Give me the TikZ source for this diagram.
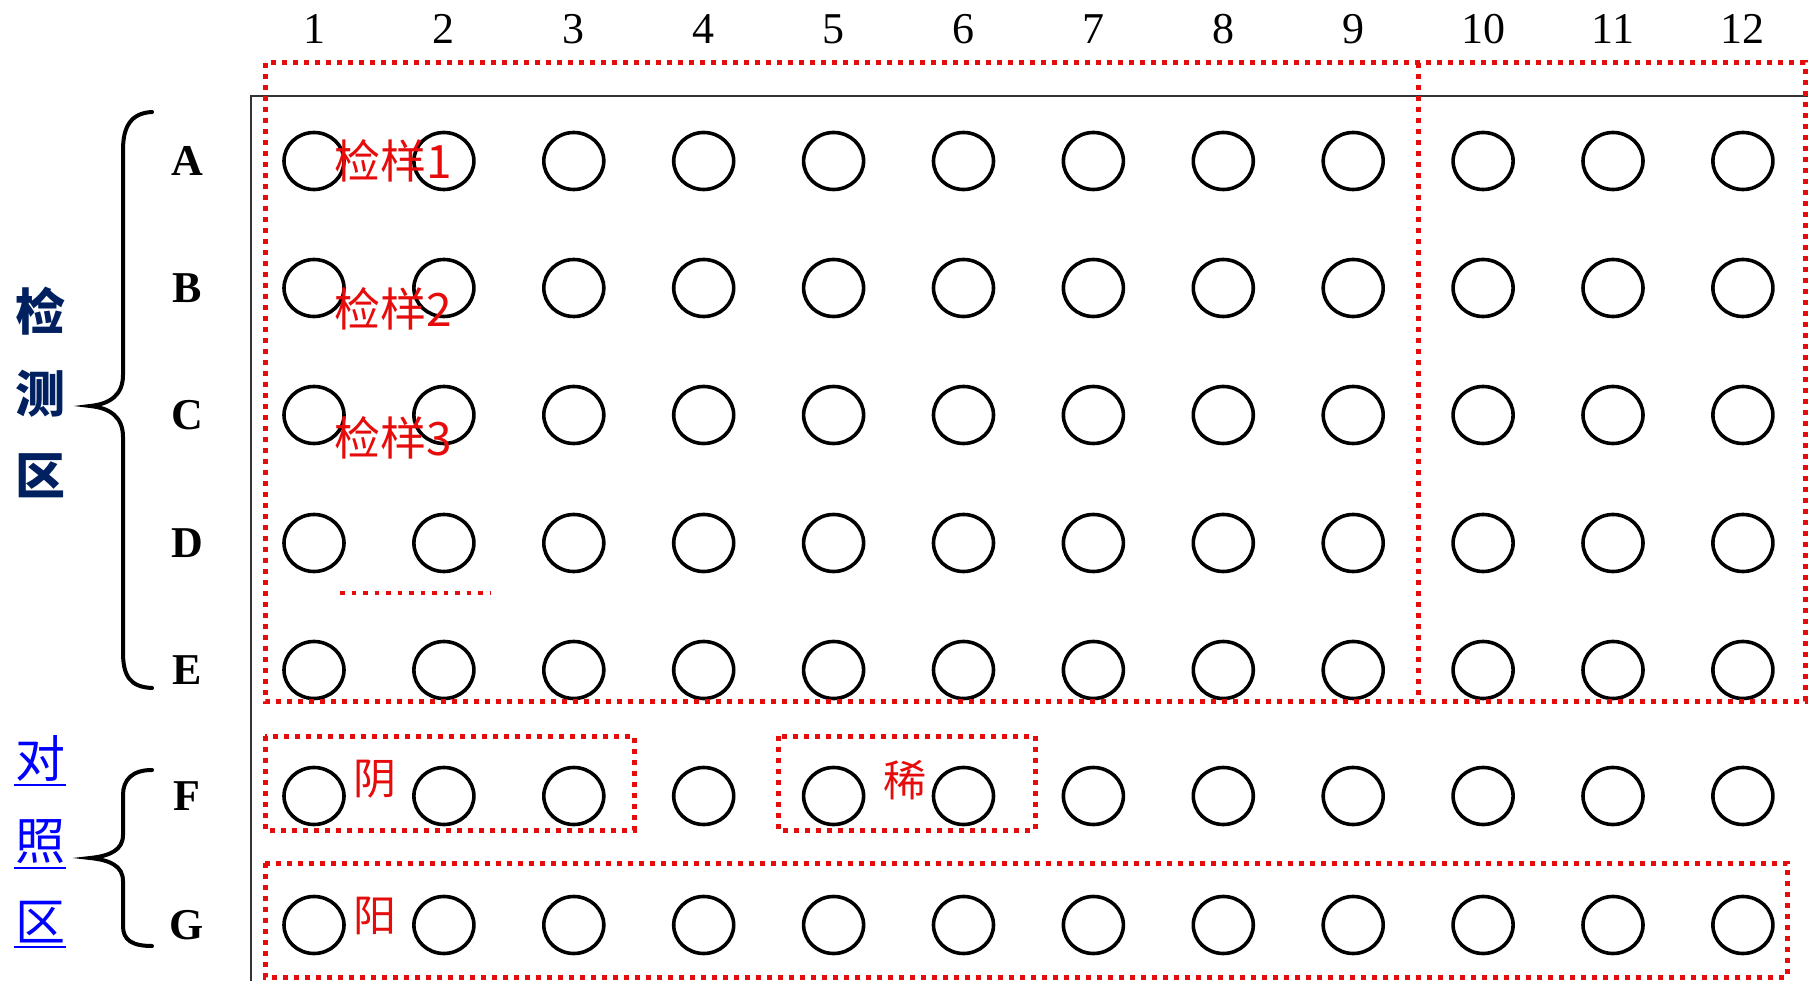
\documentclass[tikz,border=0pt]{standalone}
\usepackage{fontspec}
\setmainfont{Liberation Serif}
\newfontfamily\cjk{Noto Sans CJK SC}
\usetikzlibrary{shapes.geometric}
\definecolor{dotred}{RGB}{230,12,12}
\definecolor{navyblue}{RGB}{0,32,96}
\definecolor{ctrlblue}{RGB}{0,0,255}
\begin{document}
\begin{tikzpicture}[x=1pt,y=-1pt,
  well/.style={ellipse, draw=black, line width=3.6pt, minimum width=60pt, minimum height=57pt, inner sep=0pt},
  zone/.style={draw=dotred, line width=5pt, dash pattern=on 5pt off 6pt},
  collabel/.style={font=\fontsize{44}{44}\selectfont, inner sep=0pt},
  rowlabel/.style={font=\fontsize{44}{44}\selectfont\bfseries, inner sep=0pt},
  redtxt/.style={text=dotred, font=\cjk\fontsize{46}{46}\selectfont, inner sep=0pt},
  redsmall/.style={text=dotred, font=\cjk\fontsize{43}{43}\selectfont, inner sep=0pt},
  areatxt/.style={font=\cjk\fontsize{50}{50}\selectfont, inner sep=0pt},
  brace/.style={draw=black, line width=4pt, line cap=round},
  frame/.style={draw=black!80, line width=2.5pt}
]
\useasboundingbox (0,0) rectangle (1808,981);
\fill[white] (0,0) rectangle (1808,981);

% plate frame
\coordinate (frameTL) at (251,96);
\coordinate (frameTR) at (1808,96);
\coordinate (frameBL) at (251,981);
\draw[frame] (frameTR) -- (frameTL) -- (frameBL);

% column labels
\foreach \c in {1,...,12} {
  \node[collabel] (col\c) at ({314+129.9*(\c-1)},29) {\c};
}

% rows and wells
\foreach \r/\y in {A/161,B/288,C/415,D/543,E/670,F/796,G/925} {
  \node[rowlabel] (row\r) at (187,\y) {\r};
  \foreach \c in {1,...,12} {
    \node[well] (w\r\c) at ({314+129.9*(\c-1)},\y) {};
  }
}

% zones
\draw[zone] (265,63) rectangle (1805,701);
\draw[zone] (1418,63) -- (1418,701);
\draw[zone] (265,736) rectangle (634,830);
\draw[zone] (778,736) rectangle (1035,830);
\draw[zone] (265,863) rectangle (1787,977);
\draw[draw=dotred, line width=4.5pt, dash pattern=on 4.5pt off 7pt] (340,593) -- (490,593);

% red labels
\node[redtxt, anchor=west] (s1) at (334,161) {检样1};
\node[redtxt, anchor=west] (s2) at (334,309) {检样2};
\node[redtxt, anchor=west] (s3) at (334,438) {检样3};
\node[redsmall] (neg) at (375,779) {阴};
\node[redsmall] (pos) at (375,916) {阳};
\node[redsmall] (dil) at (905,780) {稀};

% braces
\draw[brace] (152,112) .. controls (130,113) and (123,128) .. (123,150)
  -- (123,375) .. controls (123,395) and (110,404) .. (90,406)
  .. controls (110,408) and (123,417) .. (123,437)
  -- (123,652) .. controls (123,676) and (130,687) .. (152,688);
\draw[brace] (152,770) .. controls (132,770) and (123,780) .. (123,795)
  -- (123,835) .. controls (123,850) and (110,856) .. (90,858)
  .. controls (110,860) and (123,866) .. (123,881)
  -- (123,926) .. controls (123,940) and (132,946) .. (152,946);

% area labels
\node[areatxt, text=navyblue, font=\cjk\bfseries\fontsize{50}{50}\selectfont] (d1) at (40,311) {检};
\node[areatxt, text=navyblue, font=\cjk\bfseries\fontsize{50}{50}\selectfont] (d2) at (40,394) {测};
\node[areatxt, text=navyblue, font=\cjk\bfseries\fontsize{50}{50}\selectfont] (d3) at (40,476) {区};
\node[areatxt, text=ctrlblue] (c1) at (40,758) {对};
\node[areatxt, text=ctrlblue] (c2) at (40,842) {照};
\node[areatxt, text=ctrlblue] (c3) at (40,922) {区};
\foreach \n in {c1,c2,c3} {
  \draw[ctrlblue, line width=2pt] ([xshift=-1pt,yshift=-4pt]\n.south west) -- ([xshift=1pt,yshift=-4pt]\n.south east);
}
\end{tikzpicture}
\end{document}
